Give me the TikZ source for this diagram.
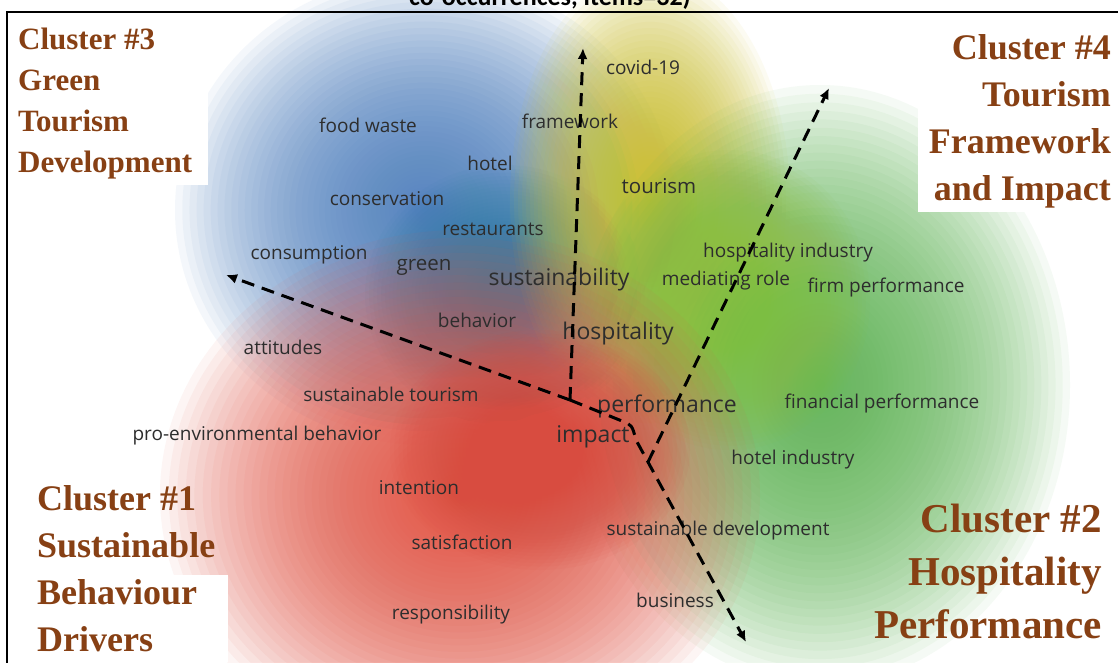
\documentclass[tikz,border=0pt]{standalone}
\usepackage{fontspec}
\setmainfont{Liberation Serif}
\newfontfamily\kwfont{Open Sans}
\newfontfamily\capfont{Carlito}
\usetikzlibrary{arrows.meta}

\definecolor{clbrown}{RGB}{135,64,20}
\definecolor{clred}{RGB}{228,86,70}
\definecolor{cldeepred}{RGB}{216,76,64}
\definecolor{clblue}{RGB}{84,132,194}
\definecolor{clteal}{RGB}{48,126,166}
\definecolor{clyellow}{RGB}{204,192,46}
\definecolor{cllime}{RGB}{140,190,66}
\definecolor{clgreen}{RGB}{100,184,90}
\definecolor{kwtext}{RGB}{45,45,45}

% soft density cloud: stacked see-through ellipses
\newcommand{\cloud}[4]{%
  \foreach \k in {1,...,48}{\fill[#1, opacity=0.058] #2 ellipse [x radius={#3*(\k/48)^1.4}, y radius={#4*(\k/48)^1.4}];}}

\begin{document}
\begin{tikzpicture}[
    x=1pt, y=-1pt,
    kw/.style={text=kwtext, font=\kwfont\fontsize{19}{21}\selectfont, inner sep=0pt},
    kwmid/.style={kw, font=\kwfont\fontsize{20.5}{22}\selectfont},
    kwbig/.style={kw, font=\kwfont\fontsize{23}{26}\selectfont},
    cluster/.style={text=clbrown, inner sep=0pt},
    arrow/.style={-{Latex[length=11pt, width=10pt]}, line width=3pt, dash pattern=on 13pt off 8pt}
]
\useasboundingbox (0,0) rectangle (1118,662);
\fill[white] (0,0) rectangle (1118,662);

% density clouds
\cloud{clblue}{(425,210)}{250}{235}
\cloud{clteal}{(505,295)}{140}{130}
\cloud{clyellow}{(650,200)}{140}{230}
\cloud{clgreen}{(820,385)}{250}{300}
\cloud{cllime}{(730,300)}{140}{150}
\cloud{clred}{(460,495)}{300}{265}
\cloud{cldeepred}{(540,450)}{150}{120}

% white label boxes and frame
\fill[white] (8,12) rectangle (208,185);
\fill[white] (8,575) rectangle (228,662);
\fill[white] (918,14) rectangle (1118,212);
\draw[line width=2pt] (7,12) rectangle (1130,680);

\node[font=\capfont\bfseries\fontsize{26}{28}\selectfont, anchor=base] (title) at (550,5) {co-occurrences, items=32)};

% keywords
\node[kw] (covid) at (643,67) {covid-19};
\node[kw] (framework) at (570,121) {framework};
\node[kw] (foodwaste) at (368,125) {food waste};
\node[kw] (hotel) at (490,163) {hotel};
\node[kwmid] (tourism) at (659,186) {tourism};
\node[kw] (conservation) at (387,199) {conservation};
\node[kw] (restaurants) at (493,229) {restaurants};
\node[kw] (hospind) at (788,253) {hospitality industry};
\node[kw] (consumption) at (309,255) {consumption};
\node[kwmid] (green) at (424,267) {green};
\node[kwbig] (sustainability) at (559,280) {sustainability};
\node[kw] (mediating) at (726,281) {mediating role};
\node[kw] (firmperf) at (886,288) {firm performance};
\node[kw] (behavior) at (477,320) {behavior};
\node[kwbig] (hospitality) at (618,334) {hospitality};
\node[kw] (attitudes) at (283,347) {attitudes};
\node[kw] (sustour) at (391,394) {sustainable tourism};
\node[kwbig] (performance) at (667,406) {performance};
\node[kw] (finperf) at (882,404) {financial performance};
\node[kw] (proenv) at (257,436) {pro-environmental behavior};
\node[kwbig] (impact) at (593,437) {impact};
\node[kw] (hotelind) at (793,460) {hotel industry};
\node[kw] (intention) at (419,488) {intention};
\node[kw] (sustdev) at (718,531) {sustainable development};
\node[kw] (satisfaction) at (462,542) {satisfaction};
\node[kw] (business) at (675,600) {business};
\node[kw] (responsibility) at (451,615) {responsibility};

% cluster titles
\node[cluster, font=\bfseries\fontsize{31}{41}\selectfont, align=left, anchor=north west] (c3) at (18,28) {Cluster \#3\\Green\\Tourism\\Development};
\node[cluster, font=\bfseries\fontsize{36}{47}\selectfont, align=right, anchor=north east] (c4) at (1111,34) {Cluster \#4\\Tourism\\Framework\\and Impact};
\node[cluster, font=\bfseries\fontsize{36}{47}\selectfont, align=left, anchor=north west] (c1) at (37,485) {Cluster \#1\\Sustainable\\Behaviour\\Drivers};
\node[cluster, font=\bfseries\fontsize{41}{53}\selectfont, align=right, anchor=north east] (c2) at (1102,504) {Cluster \#2\\Hospitality\\Performance};

% dashed axes
\coordinate (hub) at (570,400);
\coordinate (knee) at (622,421);
\coordinate (fork) at (648,462);
\coordinate (topend) at (583,48);
\coordinate (leftend) at (226,275);
\coordinate (downend) at (746,642);
\coordinate (rightend) at (829,88);

\draw[arrow] (hub) -- (topend);
\draw[arrow] (hub) -- (leftend);
\draw[arrow] (hub) -- (knee) .. controls (632,425) .. (636,440) -- (downend);
\draw[arrow] (fork) -- (rightend);
\end{tikzpicture}
\end{document}
